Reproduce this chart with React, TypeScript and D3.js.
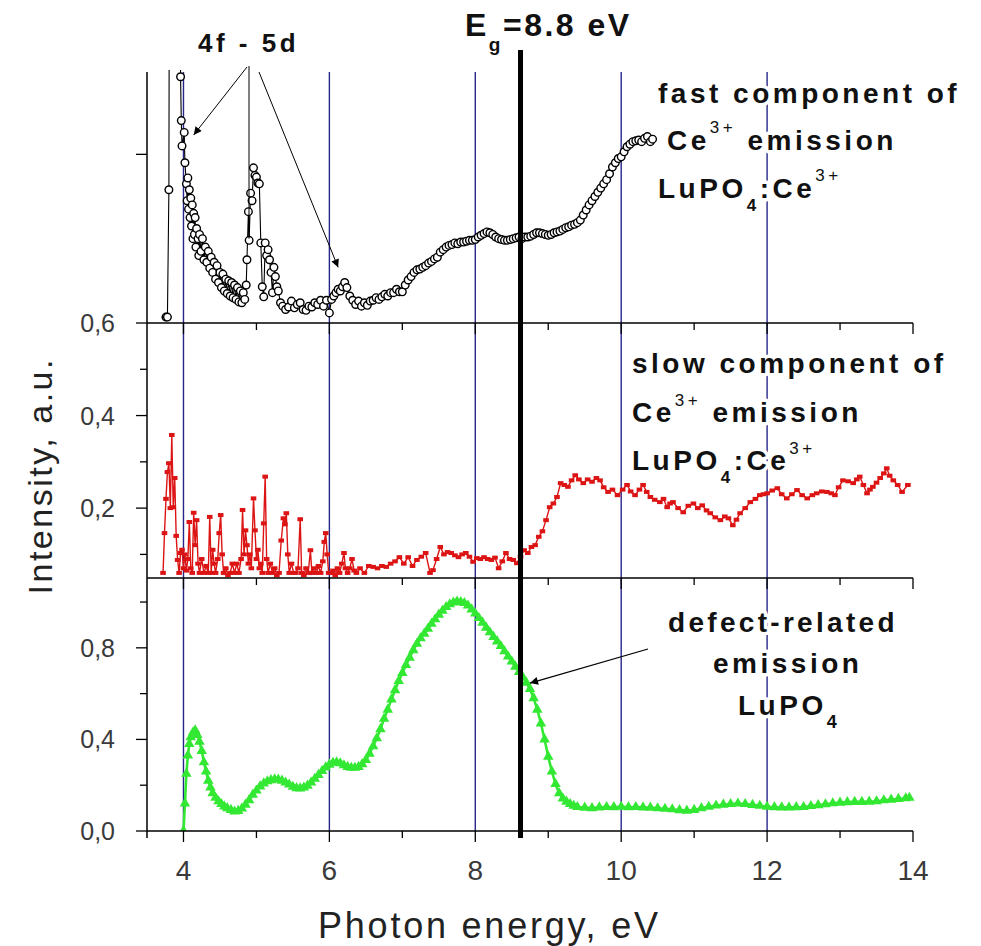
import React from 'react';
import * as d3 from 'd3';

// ---------- data ----------
const energyTicks = [4, 5, 6, 7, 8, 9, 10, 11, 12, 13, 14];
const energyLabels = [4, 6, 8, 10, 12, 14];
const gridEnergies = [4, 6, 8, 10, 12];
const bandGapLine = 8.62;
const fastTicks = [0.8];
const slowMajor = [0.2, 0.4, 0.6];
const slowMinor = [0.1, 0.3, 0.5];
const defectMajor = [0.0, 0.4, 0.8];
const defectMinor = [0.2, 0.6, 1.0];

// fast component of Ce3+ emission (black open circles)
const fastData: [number, number][] = [
  [3.76, 0.607], [3.78, 0.607], [3.8, 0.758], [3.81, 1.2], [3.95, 1.2], [3.96, 0.892], [3.97, 0.84], [3.98, 0.81],
  [4.01, 0.826], [4.02, 0.79], [4.04, 0.765], [4.05, 0.745], [4.06, 0.772], [4.07, 0.735], [4.08, 0.758],
  [4.09, 0.725], [4.1, 0.748], [4.11, 0.715], [4.12, 0.74], [4.13, 0.7], [4.14, 0.73], [4.15, 0.705],
  [4.16, 0.725], [4.17, 0.69], [4.18, 0.712], [4.2, 0.7], [4.21, 0.68], [4.22, 0.705], [4.24, 0.685],
  [4.26, 0.7], [4.28, 0.675], [4.3, 0.69], [4.32, 0.672], [4.34, 0.685], [4.36, 0.665], [4.38, 0.678],
  [4.4, 0.66], [4.42, 0.672], [4.44, 0.652], [4.46, 0.668], [4.48, 0.648], [4.5, 0.66], [4.52, 0.642],
  [4.54, 0.658], [4.56, 0.638], [4.58, 0.652], [4.6, 0.635], [4.62, 0.65], [4.64, 0.632], [4.66, 0.648],
  [4.68, 0.63], [4.7, 0.645], [4.72, 0.628], [4.74, 0.642], [4.76, 0.625], [4.78, 0.638], [4.8, 0.624],
  [4.82, 0.636], [4.84, 0.628], [4.86, 0.645], [4.87, 0.675], [4.89, 0.732], [4.9, 0.698], [4.92, 0.754],
  [4.94, 0.745], [4.96, 0.784], [4.98, 0.775], [5.0, 0.773], [5.02, 0.766], [5.04, 0.765], [5.06, 0.695],
  [5.08, 0.643], [5.1, 0.631], [5.12, 0.695], [5.14, 0.68], [5.16, 0.687], [5.18, 0.675], [5.2, 0.66],
  [5.22, 0.636], [5.24, 0.666], [5.26, 0.655], [5.28, 0.643], [5.3, 0.638], [5.33, 0.624], [5.36, 0.62],
  [5.4, 0.616], [5.44, 0.619], [5.48, 0.626], [5.52, 0.618], [5.56, 0.622], [5.6, 0.624], [5.64, 0.616],
  [5.68, 0.615], [5.72, 0.62], [5.76, 0.619], [5.8, 0.624], [5.84, 0.622], [5.88, 0.627], [5.92, 0.62],
  [5.96, 0.627], [6.0, 0.612], [6.03, 0.628], [6.06, 0.632], [6.09, 0.636], [6.12, 0.64], [6.15, 0.638],
  [6.18, 0.643], [6.21, 0.648], [6.24, 0.642], [6.28, 0.632], [6.32, 0.627], [6.36, 0.622], [6.4, 0.626],
  [6.44, 0.62], [6.48, 0.624], [6.52, 0.621], [6.56, 0.626], [6.6, 0.627], [6.64, 0.63], [6.68, 0.628],
  [6.72, 0.631], [6.76, 0.634], [6.8, 0.632], [6.84, 0.636], [6.88, 0.636], [6.92, 0.64], [6.96, 0.637],
  [7.0, 0.637], [7.04, 0.645], [7.08, 0.651], [7.12, 0.655], [7.16, 0.66], [7.2, 0.663], [7.24, 0.664],
  [7.28, 0.666], [7.32, 0.668], [7.36, 0.671], [7.4, 0.673], [7.44, 0.676], [7.48, 0.678], [7.52, 0.684],
  [7.56, 0.687], [7.6, 0.69], [7.64, 0.692], [7.68, 0.693], [7.72, 0.695], [7.76, 0.694], [7.8, 0.696],
  [7.84, 0.696], [7.88, 0.697], [7.92, 0.698], [7.96, 0.698], [8.0, 0.699], [8.04, 0.702], [8.08, 0.704],
  [8.12, 0.706], [8.16, 0.708], [8.2, 0.707], [8.24, 0.705], [8.28, 0.702], [8.32, 0.7], [8.36, 0.699],
  [8.4, 0.698], [8.44, 0.698], [8.48, 0.699], [8.52, 0.7], [8.56, 0.701], [8.6, 0.702], [8.64, 0.7],
  [8.68, 0.702], [8.72, 0.702], [8.76, 0.703], [8.8, 0.705], [8.84, 0.707], [8.88, 0.707], [8.92, 0.706],
  [8.96, 0.705], [9.0, 0.704], [9.04, 0.705], [9.08, 0.707], [9.12, 0.708], [9.16, 0.709], [9.2, 0.711],
  [9.24, 0.713], [9.28, 0.714], [9.32, 0.716], [9.36, 0.717], [9.4, 0.719], [9.44, 0.722], [9.48, 0.728],
  [9.52, 0.734], [9.56, 0.74], [9.6, 0.745], [9.64, 0.75], [9.68, 0.755], [9.72, 0.76], [9.76, 0.765],
  [9.8, 0.77], [9.84, 0.777], [9.88, 0.785], [9.92, 0.79], [9.96, 0.795], [10.0, 0.797], [10.04, 0.803],
  [10.08, 0.809], [10.12, 0.812], [10.16, 0.815], [10.2, 0.816], [10.24, 0.817], [10.28, 0.815],
  [10.32, 0.819], [10.36, 0.821], [10.4, 0.815], [10.43, 0.818],
];

// slow component of Ce3+ emission (red squares)
const slowData: [number, number][] = [
  [3.72, 0.06], [3.74, 0.146], [3.76, 0.22], [3.78, 0.278], [3.8, 0.297], [3.82, 0.2], [3.84, 0.358],
  [3.86, 0.202], [3.88, 0.265], [3.9, 0.14], [3.92, 0.088], [3.94, 0.06], [3.96, 0.103], [3.98, 0.11],
  [4.0, 0.07], [4.02, 0.1], [4.04, 0.065], [4.06, 0.09], [4.08, 0.17], [4.1, 0.07], [4.12, 0.06],
  [4.14, 0.19], [4.16, 0.12], [4.18, 0.174], [4.2, 0.08], [4.22, 0.06], [4.25, 0.09], [4.28, 0.06],
  [4.31, 0.075], [4.34, 0.06], [4.36, 0.181], [4.38, 0.06], [4.4, 0.11], [4.42, 0.08], [4.44, 0.06],
  [4.47, 0.09], [4.49, 0.146], [4.51, 0.185], [4.53, 0.1], [4.55, 0.06], [4.58, 0.07], [4.61, 0.055],
  [4.64, 0.06], [4.67, 0.08], [4.7, 0.06], [4.73, 0.08], [4.76, 0.06], [4.79, 0.09], [4.81, 0.196],
  [4.83, 0.1], [4.85, 0.152], [4.87, 0.12], [4.89, 0.08], [4.91, 0.1], [4.93, 0.07], [4.96, 0.221],
  [4.98, 0.152], [5.0, 0.09], [5.02, 0.11], [5.04, 0.07], [5.06, 0.08], [5.08, 0.06], [5.1, 0.167],
  [5.12, 0.268], [5.14, 0.09], [5.16, 0.06], [5.19, 0.08], [5.22, 0.06], [5.25, 0.07], [5.28, 0.055],
  [5.31, 0.06], [5.34, 0.13], [5.37, 0.178], [5.39, 0.165], [5.41, 0.189], [5.43, 0.1], [5.45, 0.06],
  [5.48, 0.08], [5.51, 0.06], [5.54, 0.06], [5.57, 0.07], [5.6, 0.176], [5.62, 0.06], [5.65, 0.055],
  [5.68, 0.07], [5.71, 0.06], [5.74, 0.109], [5.76, 0.06], [5.79, 0.07], [5.82, 0.06], [5.85, 0.075],
  [5.88, 0.06], [5.91, 0.085], [5.93, 0.127], [5.95, 0.146], [5.97, 0.1], [5.99, 0.06], [6.02, 0.06],
  [6.05, 0.065], [6.08, 0.055], [6.11, 0.07], [6.14, 0.06], [6.17, 0.08], [6.2, 0.103], [6.22, 0.07],
  [6.25, 0.06], [6.28, 0.07], [6.31, 0.09], [6.34, 0.065], [6.37, 0.06], [6.42, 0.07], [6.48, 0.06],
  [6.54, 0.075], [6.6, 0.073], [6.66, 0.07], [6.72, 0.075], [6.78, 0.073], [6.84, 0.08], [6.9, 0.085],
  [6.96, 0.094], [7.02, 0.08], [7.08, 0.094], [7.14, 0.075], [7.2, 0.088], [7.26, 0.095], [7.32, 0.103],
  [7.38, 0.06], [7.42, 0.066], [7.47, 0.09], [7.52, 0.116], [7.57, 0.1], [7.62, 0.105], [7.67, 0.103],
  [7.72, 0.098], [7.77, 0.094], [7.82, 0.1], [7.87, 0.103], [7.92, 0.095], [7.97, 0.084], [8.02, 0.092],
  [8.07, 0.09], [8.12, 0.094], [8.17, 0.09], [8.22, 0.088], [8.27, 0.093], [8.32, 0.07], [8.37, 0.085],
  [8.42, 0.103], [8.47, 0.09], [8.52, 0.088], [8.57, 0.081], [8.62, 0.095], [8.67, 0.109], [8.72, 0.103],
  [8.77, 0.116], [8.82, 0.12], [8.87, 0.138], [8.92, 0.15], [8.97, 0.174], [9.02, 0.202], [9.07, 0.21],
  [9.12, 0.224], [9.17, 0.254], [9.22, 0.25], [9.27, 0.246], [9.32, 0.26], [9.37, 0.271], [9.42, 0.262],
  [9.48, 0.254], [9.54, 0.262], [9.6, 0.257], [9.66, 0.265], [9.71, 0.26], [9.76, 0.245], [9.82, 0.235],
  [9.88, 0.24], [9.95, 0.228], [10.02, 0.24], [10.08, 0.25], [10.13, 0.236], [10.19, 0.228], [10.25, 0.24],
  [10.3, 0.25], [10.35, 0.235], [10.4, 0.224], [10.46, 0.218], [10.53, 0.213], [10.58, 0.22], [10.63, 0.202],
  [10.67, 0.21], [10.71, 0.213], [10.78, 0.2], [10.85, 0.191], [10.92, 0.205], [10.99, 0.21], [11.05, 0.2],
  [11.11, 0.206], [11.17, 0.195], [11.22, 0.189], [11.29, 0.18], [11.36, 0.174], [11.42, 0.182],
  [11.47, 0.178], [11.53, 0.163], [11.58, 0.175], [11.63, 0.189], [11.7, 0.2], [11.77, 0.213], [11.84, 0.22],
  [11.9, 0.228], [11.95, 0.23], [12.0, 0.232], [12.07, 0.238], [12.14, 0.243], [12.2, 0.23], [12.27, 0.221],
  [12.34, 0.23], [12.41, 0.239], [12.48, 0.228], [12.55, 0.221], [12.62, 0.228], [12.68, 0.232],
  [12.75, 0.236], [12.82, 0.235], [12.88, 0.232], [12.93, 0.228], [12.98, 0.245], [13.04, 0.26],
  [13.11, 0.258], [13.18, 0.254], [13.23, 0.262], [13.27, 0.268], [13.32, 0.25], [13.37, 0.232],
  [13.41, 0.24], [13.45, 0.246], [13.5, 0.255], [13.55, 0.265], [13.6, 0.275], [13.64, 0.286],
  [13.68, 0.27], [13.73, 0.26], [13.79, 0.25], [13.85, 0.235], [13.93, 0.25],
];

// defect-related emission LuPO4 (green triangles)
const defectData: [number, number][] = [
  [4.0, 0.0], [4.02, 0.12], [4.04, 0.25], [4.06, 0.33], [4.08, 0.38], [4.1, 0.41], [4.13, 0.43],
  [4.16, 0.44], [4.19, 0.42], [4.22, 0.39], [4.25, 0.35], [4.28, 0.3], [4.31, 0.26], [4.34, 0.22],
  [4.37, 0.19], [4.4, 0.165], [4.44, 0.145], [4.48, 0.13], [4.52, 0.118], [4.56, 0.107], [4.6, 0.1],
  [4.65, 0.092], [4.7, 0.085], [4.75, 0.088], [4.8, 0.098], [4.85, 0.115], [4.9, 0.135], [4.95, 0.158],
  [5.0, 0.177], [5.05, 0.195], [5.1, 0.208], [5.15, 0.217], [5.2, 0.222], [5.25, 0.226], [5.3, 0.225],
  [5.35, 0.22], [5.4, 0.212], [5.45, 0.203], [5.5, 0.193], [5.55, 0.187], [5.6, 0.186], [5.65, 0.19],
  [5.7, 0.198], [5.75, 0.212], [5.8, 0.228], [5.85, 0.245], [5.9, 0.262], [5.95, 0.278], [6.0, 0.29],
  [6.05, 0.298], [6.1, 0.3], [6.15, 0.296], [6.2, 0.287], [6.25, 0.28], [6.3, 0.276], [6.35, 0.276],
  [6.4, 0.28], [6.45, 0.292], [6.5, 0.31], [6.55, 0.338], [6.6, 0.37], [6.65, 0.405], [6.7, 0.445],
  [6.75, 0.49], [6.8, 0.53], [6.85, 0.575], [6.9, 0.615], [6.95, 0.655], [7.0, 0.69], [7.05, 0.725],
  [7.1, 0.757], [7.15, 0.79], [7.2, 0.818], [7.25, 0.842], [7.3, 0.862], [7.35, 0.883], [7.4, 0.905],
  [7.45, 0.925], [7.5, 0.945], [7.55, 0.962], [7.6, 0.978], [7.65, 0.99], [7.7, 0.998], [7.75, 1.002],
  [7.8, 1.0], [7.85, 0.996], [7.9, 0.985], [7.95, 0.968], [8.0, 0.95], [8.05, 0.93], [8.1, 0.91],
  [8.15, 0.888], [8.2, 0.868], [8.25, 0.848], [8.3, 0.828], [8.35, 0.808], [8.4, 0.785], [8.45, 0.762],
  [8.5, 0.74], [8.55, 0.718], [8.6, 0.695], [8.65, 0.672], [8.7, 0.648], [8.75, 0.62], [8.8, 0.58],
  [8.85, 0.53], [8.9, 0.47], [8.95, 0.4], [9.0, 0.325], [9.05, 0.26], [9.1, 0.205], [9.15, 0.165],
  [9.2, 0.142], [9.25, 0.128], [9.3, 0.118], [9.35, 0.11], [9.4, 0.105], [9.5, 0.102], [9.6, 0.1],
  [9.7, 0.103], [9.8, 0.105], [9.9, 0.104], [10.0, 0.106], [10.1, 0.104], [10.2, 0.105], [10.3, 0.103],
  [10.4, 0.102], [10.5, 0.099], [10.6, 0.097], [10.7, 0.095], [10.8, 0.091], [10.9, 0.089], [11.0, 0.092],
  [11.1, 0.1], [11.2, 0.106], [11.3, 0.111], [11.4, 0.115], [11.5, 0.118], [11.6, 0.12], [11.7, 0.118],
  [11.8, 0.114], [11.9, 0.11], [12.0, 0.106], [12.1, 0.104], [12.2, 0.103], [12.3, 0.103], [12.4, 0.104],
  [12.5, 0.105], [12.6, 0.109], [12.7, 0.113], [12.8, 0.117], [12.9, 0.121], [13.0, 0.124], [13.1, 0.126],
  [13.2, 0.127], [13.3, 0.127], [13.4, 0.128], [13.5, 0.13], [13.6, 0.134], [13.7, 0.137], [13.8, 0.14],
  [13.9, 0.143], [13.95, 0.145],
];

// ---------- helpers ----------
type Seg = { t: string; s?: 'sup' | 'sub' };
const FONT = "'Liberation Sans', Arial, Helvetica, sans-serif";

function Rich(props: {
  x: number; y: number; segs: Seg[]; size: number; small: number;
  spacing: number; anchor?: string; supDy: number; subDy: number; halo?: boolean;
}) {
  const { x, y, segs, size, small, spacing, anchor, supDy, subDy, halo } = props;
  let cur = 0;
  return (
    <text x={x} y={y} fontSize={size} fontWeight="bold" fontFamily={FONT} fill="#111"
      textAnchor={anchor || 'start'}
      stroke={halo ? '#fff' : 'none'} strokeWidth={halo ? 7 : 0} strokeLinejoin="round"
      style={{ letterSpacing: spacing + 'px', paintOrder: 'stroke', whiteSpace: 'pre' } as any}>
      {segs.map((sg, i) => {
        const target = sg.s === 'sup' ? -supDy : sg.s === 'sub' ? subDy : 0;
        const dy = target - cur;
        cur = target;
        return (
          <tspan key={i} dy={dy} fontSize={sg.s ? small : size}
            fontWeight={sg.s === 'sup' ? 'normal' : 'bold'}>{sg.t}</tspan>
        );
      })}
    </text>
  );
}

const fmt = (v: number) => d3.format('.1f')(v).replace('.', ',');

export default function App() {
  const W = 981, H = 946;
  const left = 147, right = 913;
  const x = d3.scaleLinear().domain([3.5, 14]).range([left, right]);
  const yFast = d3.scaleLinear().domain([0.6, 0.9]).range([323, 70]);
  const ySlow = d3.scaleLinear().domain([0.049, 0.6]).range([578, 323]);
  const yDef = d3.scaleLinear().domain([0, 1.105]).range([831, 578]);

  const lineFast = d3.line<[number, number]>().x(d => x(d[0])).y(d => yFast(d[1]));
  const lineSlow = d3.line<[number, number]>().x(d => x(d[0])).y(d => ySlow(d[1]));
  const lineDef = d3.line<[number, number]>().x(d => x(d[0])).y(d => yDef(d[1]));

  const axisYs = [323, 578, 831];
  const green = '#33e833';
  const red = '#dc1414';
  const navy = '#26268a';

  const tri = d3.symbol().type(d3.symbolTriangle).size(48)();

  return (
    <svg width={W} height={H} style={{ position: 'absolute', left: 0, top: 0, background: '#fff' }}>
      <defs>
        <clipPath id="cTop"><rect x={left} y={70} width={right - left + 6} height={253} /></clipPath>
        <clipPath id="cMid"><rect x={left} y={323} width={right - left + 6} height={255} /></clipPath>
        <clipPath id="cBot"><rect x={left} y={578} width={right - left + 6} height={253} /></clipPath>
        <marker id="ah" viewBox="0 0 10 10" refX="10" refY="5" markerWidth="11" markerHeight="8"
          markerUnits="userSpaceOnUse" orient="auto">
          <path d="M0,0 L10,5 L0,10 z" fill="#000" />
        </marker>
      </defs>
      <rect x={0} y={0} width={W} height={H} fill="#fff" />

      {/* blue vertical grid lines */}
      {gridEnergies.map(e => (
        <line key={'g' + e} x1={x(e)} x2={x(e)} y1={72} y2={831} stroke={navy} strokeWidth={1.4} />
      ))}

      {/* fast component */}
      <g clipPath="url(#cTop)">
        <path d={lineFast(fastData) || ''} fill="none" stroke="#000" strokeWidth={1.1} />
        {fastData.map((d, i) => (
          <circle key={i} cx={x(d[0])} cy={yFast(d[1])} r={3.8} fill="#fff" stroke="#000" strokeWidth={1.4} />
        ))}
      </g>

      {/* slow component */}
      <g clipPath="url(#cMid)">
        <path d={lineSlow(slowData) || ''} fill="none" stroke={red} strokeWidth={1.4} />
        {slowData.map((d, i) => (
          <rect key={i} x={x(d[0]) - 2.8} y={ySlow(d[1]) - 2} width={5.6} height={4} fill={red} />
        ))}
      </g>

      {/* defect emission */}
      <g clipPath="url(#cBot)">
        <path d={lineDef(defectData) || ''} fill="none" stroke={green} strokeWidth={2.6} />
        {defectData.map((d, i) => (
          <path key={i} d={tri || ''} transform={`translate(${x(d[0])},${yDef(d[1])})`} fill={green} />
        ))}
      </g>

      {/* axes */}
      <line x1={left} x2={left} y1={72} y2={838} stroke="#000" strokeWidth={1.5} />
      {axisYs.map(ay => (
        <g key={'ax' + ay}>
          <line x1={left} x2={right} y1={ay} y2={ay} stroke="#000" strokeWidth={1.6} />
          {energyTicks.map(t => (
            <line key={t} x1={x(t)} x2={x(t)} y1={ay} y2={ay + (t % 2 === 0 ? 11 : 7)} stroke="#000" strokeWidth={1.3} />
          ))}
        </g>
      ))}

      {/* y ticks */}
      {fastTicks.map(t => (
        <line key={'ft' + t} x1={left - 11} x2={left} y1={yFast(t)} y2={yFast(t)} stroke="#000" strokeWidth={1.3} />
      ))}
      {slowMajor.map(t => (
        <g key={'sm' + t}>
          <line x1={left - 11} x2={left} y1={ySlow(t)} y2={ySlow(t)} stroke="#000" strokeWidth={1.3} />
          <text x={115} y={ySlow(t) + 9} textAnchor="end" fontSize={25} fontFamily={FONT} fill="#3a3a3a">{fmt(t)}</text>
        </g>
      ))}
      {slowMinor.map(t => (
        <line key={'sn' + t} x1={left - 7} x2={left} y1={ySlow(t)} y2={ySlow(t)} stroke="#000" strokeWidth={1.3} />
      ))}
      {defectMajor.map(t => (
        <g key={'dm' + t}>
          <line x1={left - 11} x2={left} y1={yDef(t)} y2={yDef(t)} stroke="#000" strokeWidth={1.3} />
          <text x={115} y={yDef(t) + 9} textAnchor="end" fontSize={25} fontFamily={FONT} fill="#3a3a3a">{fmt(t)}</text>
        </g>
      ))}
      {defectMinor.map(t => (
        <line key={'dn' + t} x1={left - 7} x2={left} y1={yDef(t)} y2={yDef(t)} stroke="#000" strokeWidth={1.3} />
      ))}

      {/* x tick labels */}
      {energyLabels.map(t => (
        <text key={'xl' + t} x={x(t)} y={880} textAnchor="middle" fontSize={28} fontFamily={FONT} fill="#3a3a3a">{t}</text>
      ))}

      {/* axis titles */}
      <text x={488} y={938} textAnchor="middle" fontSize={36} fontFamily={FONT} fill="#222"
        textLength={340} lengthAdjust="spacing">Photon energy, eV</text>
      <text transform="translate(52,477) rotate(-90)" textAnchor="middle" fontSize={34} fontFamily={FONT} fill="#222"
        textLength={235} lengthAdjust="spacing">Intensity, a.u.</text>

      {/* band gap line */}
      <line x1={x(bandGapLine)} x2={x(bandGapLine)} y1={50} y2={838} stroke="#000" strokeWidth={5} />

      {/* annotations */}
      <Rich x={465} y={36} size={32} small={19} spacing={2.5} supDy={0} subDy={15}
        segs={[{ t: 'E' }, { t: 'g', s: 'sub' }, { t: '=8.8 eV' }]} />
      <Rich x={198} y={52} size={26} small={18} spacing={3.5} supDy={0} subDy={0}
        segs={[{ t: '4f - 5d' }]} />

      {/* 4f-5d arrows */}
      <line x1={247} y1={67} x2={x(4.14)} y2={yFast(0.823)} stroke="#000" strokeWidth={1} markerEnd="url(#ah)" />
      <line x1={259} y1={72} x2={x(6.12)} y2={yFast(0.666)} stroke="#000" strokeWidth={1} markerEnd="url(#ah)" />
      <line x1={249} y1={66} x2={249} y2={yFast(0.7)} stroke="#000" strokeWidth={1} />

      <Rich x={658} y={103} size={28} small={17} spacing={3.5} supDy={17} subDy={13} halo
        segs={[{ t: 'fast component of' }]} />
      <Rich x={667} y={150} size={28} small={17} spacing={3.5} supDy={17} subDy={13} halo
        segs={[{ t: 'Ce' }, { t: '3+', s: 'sup' }, { t: ' emission' }]} />
      <Rich x={658} y={198} size={28} small={17} spacing={3.5} supDy={17} subDy={13} halo
        segs={[{ t: 'LuPO' }, { t: '4', s: 'sub' }, { t: ':Ce' }, { t: '3+', s: 'sup' }]} />

      <Rich x={632} y={373} size={28} small={17} spacing={3.5} supDy={16} subDy={13} halo
        segs={[{ t: 'slow component of' }]} />
      <Rich x={632} y={422} size={28} small={17} spacing={3.5} supDy={16} subDy={13} halo
        segs={[{ t: 'Ce' }, { t: '3+', s: 'sup' }, { t: ' emission' }]} />
      <Rich x={632} y={470} size={28} small={17} spacing={3.5} supDy={16} subDy={13} halo
        segs={[{ t: 'LuPO' }, { t: '4', s: 'sub' }, { t: ':Ce' }, { t: '3+', s: 'sup' }]} />

      <Rich x={668} y={632} size={28} small={17} spacing={3.3} supDy={16} subDy={13} halo
        segs={[{ t: 'defect-related' }]} />
      <Rich x={713} y={673} size={28} small={17} spacing={3.5} supDy={16} subDy={13} halo
        segs={[{ t: 'emission' }]} />
      <Rich x={738} y={715} size={28} small={18} spacing={3.5} supDy={16} subDy={13} halo
        segs={[{ t: 'LuPO' }, { t: '4', s: 'sub' }]} />

      <line x1={648} y1={649} x2={x(8.75)} y2={yDef(0.646)} stroke="#000" strokeWidth={1.3} markerEnd="url(#ah)" />
    </svg>
  );
}
